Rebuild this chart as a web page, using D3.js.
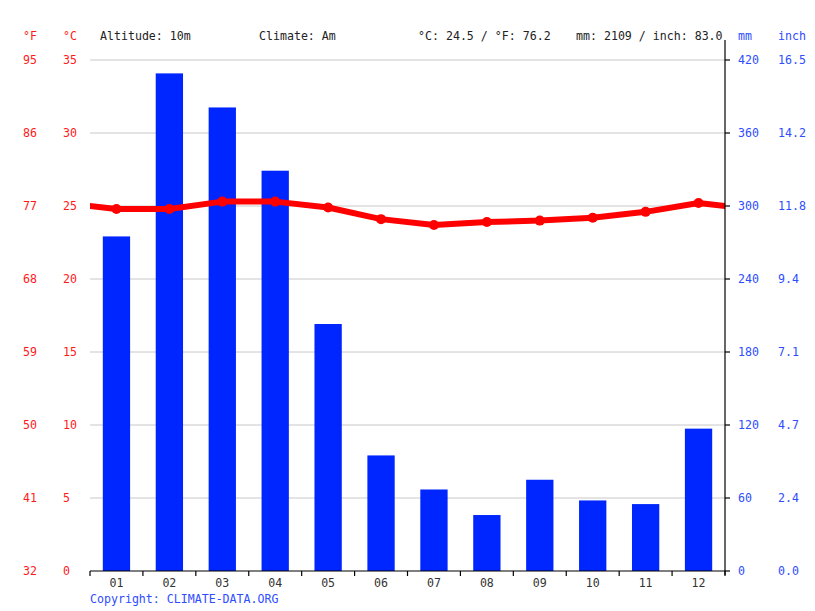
<!DOCTYPE html>
<html>
<head>
<meta charset="utf-8">
<script src="https://cdn.jsdelivr.net/npm/d3@7"></script>
<style>
  body { margin: 0; background: #fff; }
  svg text { font-family: 'DejaVu Sans Mono', monospace; font-size: 11.6px; }
</style>
</head>
<body>
<svg id="chart" width="815" height="611"></svg>
<script>
// data
var months = ["01", "02", "03", "04", "05", "06", "07", "08", "09", "10", "11", "12"];
var tempC = [24.8, 24.8, 25.3, 25.3, 24.9, 24.1, 23.7, 23.9, 24.0, 24.2, 24.6, 25.2];
var precipMm = [275, 409, 381, 329, 203, 95, 67, 46, 75, 58, 55, 117];
var celsiusTicks = [0, 5, 10, 15, 20, 25, 30, 35];
var fahrenheitLabels = ["32", "41", "50", "59", "68", "77", "86", "95"];
var mmTicks = [0, 60, 120, 180, 240, 300, 360, 420];
var inchLabels = ["0.0", "2.4", "4.7", "7.1", "9.4", "11.8", "14.2", "16.5"];
var infoTexts = [
  { x: 100, text: "Altitude: 10m" },
  { x: 259, text: "Climate: Am" },
  { x: 418, text: "°C: 24.5 / °F: 76.2" },
  { x: 576, text: "mm: 2109 / inch: 83.0" }
];

var svg = d3.select('#chart');

// plot box (note: "top" is taken by window.top, so prefixed names)
var plotLeft = 90, plotRight = 725, plotTop = 60, plotBottom = 571;
var red = "#ff0000", blue = "#0026ff", labelBlue = "#2e4dff", labelRed = "#ff1a1a";

var x = d3.scaleBand().domain(months).range([plotLeft, plotRight]).paddingInner(0.484).paddingOuter(0.242);
var band = d3.scaleBand().domain(months).range([plotLeft, plotRight]);
var yT = d3.scaleLinear().domain([0, 35]).range([plotBottom, plotTop]);
var yP = d3.scaleLinear().domain([0, 420]).range([plotBottom, plotTop]);

// grid
svg.append("g")
  .selectAll("line")
  .data(celsiusTicks.filter(function(d) { return d > 0; }))
  .join("line")
  .attr("x1", plotLeft).attr("x2", plotRight)
  .attr("y1", function(d) { return yT(d); })
  .attr("y2", function(d) { return yT(d); })
  .style("stroke", "#c8c8c8")
  .style("stroke-width", 1);

// bars
svg.append("g")
  .selectAll("rect")
  .data(precipMm)
  .join("rect")
  .attr("x", function(d, i) { return x(months[i]); })
  .attr("width", x.bandwidth())
  .attr("y", function(d) { return yP(d); })
  .attr("height", function(d) { return yP(0) - yP(d); })
  .style("fill", blue);

// temperature line, wrapped round the year and clipped to the plot
svg.append("clipPath").attr("id", "plotclip")
  .append("rect")
  .attr("x", plotLeft).attr("y", 0)
  .attr("width", plotRight - plotLeft).attr("height", plotBottom);

var step = band.step();
function cx(i) { return band(months[0]) + step / 2 + i * step; }
var linePts = [[-1, tempC[11]]]
  .concat(tempC.map(function(t, i) { return [i, t]; }))
  .concat([[12, tempC[0]]]);

var line = d3.line()
  .x(function(d) { return cx(d[0]); })
  .y(function(d) { return yT(d[1]); });

var lg = svg.append("g").attr("clip-path", "url(#plotclip)");
lg.append("path")
  .datum(linePts)
  .attr("d", line)
  .style("fill", "none")
  .style("stroke", red)
  .style("stroke-width", 6)
  .style("stroke-linejoin", "round");

lg.selectAll("circle")
  .data(tempC)
  .join("circle")
  .attr("cx", function(d, i) { return cx(i); })
  .attr("cy", function(d) { return yT(d); })
  .attr("r", 5)
  .style("fill", red);

// bottom axis
var xAxis = svg.append("g")
  .attr("transform", "translate(0," + plotBottom + ")");
xAxis.append("line")
  .attr("x1", plotLeft).attr("x2", plotRight)
  .style("stroke", "#000").style("stroke-width", 1.2);
xAxis.selectAll("line.tick")
  .data(d3.range(13))
  .join("line")
  .attr("class", "tick")
  .attr("x1", function(i) { return plotLeft + i * step; })
  .attr("x2", function(i) { return plotLeft + i * step; })
  .attr("y1", 0).attr("y2", 5)
  .style("stroke", "#000").style("stroke-width", 1.2);
xAxis.selectAll("text")
  .data(months)
  .join("text")
  .attr("x", function(d) { return band(d) + step / 2; })
  .attr("y", 16)
  .attr("text-anchor", "middle")
  .style("fill", "#333")
  .text(function(d) { return d; });

// right axis
var rAxis = svg.append("g");
rAxis.append("line")
  .attr("x1", plotRight).attr("x2", plotRight)
  .attr("y1", 40).attr("y2", plotBottom + 4)
  .style("stroke", "#000").style("stroke-width", 1.2);
rAxis.selectAll("line.tick")
  .data(mmTicks)
  .join("line")
  .attr("class", "tick")
  .attr("x1", plotRight).attr("x2", plotRight + 5)
  .attr("y1", function(d) { return yP(d); })
  .attr("y2", function(d) { return yP(d); })
  .style("stroke", "#000").style("stroke-width", 1.2);
rAxis.selectAll("text.mm")
  .data(mmTicks)
  .join("text")
  .attr("class", "mm")
  .attr("x", 738)
  .attr("y", function(d) { return yP(d) + 4; })
  .style("fill", labelBlue)
  .text(function(d) { return d; });
rAxis.selectAll("text.inch")
  .data(inchLabels)
  .join("text")
  .attr("class", "inch")
  .attr("x", 778)
  .attr("y", function(d, i) { return yP(mmTicks[i]) + 4; })
  .style("fill", labelBlue)
  .text(function(d) { return d; });

// left labels
var lAxis = svg.append("g");
lAxis.selectAll("text.c")
  .data(celsiusTicks)
  .join("text")
  .attr("class", "c")
  .attr("x", 63)
  .attr("y", function(d) { return yT(d) + 4; })
  .style("fill", labelRed)
  .text(function(d) { return d; });
lAxis.selectAll("text.f")
  .data(fahrenheitLabels)
  .join("text")
  .attr("class", "f")
  .attr("x", 23)
  .attr("y", function(d, i) { return yT(celsiusTicks[i]) + 4; })
  .style("fill", labelRed)
  .text(function(d) { return d; });

// headers
svg.append("text").attr("x", 23).attr("y", 40).style("fill", labelRed).text("°F");
svg.append("text").attr("x", 63).attr("y", 40).style("fill", labelRed).text("°C");
svg.append("text").attr("x", 738).attr("y", 40).style("fill", labelBlue).text("mm");
svg.append("text").attr("x", 778).attr("y", 40).style("fill", labelBlue).text("inch");

svg.selectAll("text.info")
  .data(infoTexts)
  .join("text")
  .attr("class", "info")
  .attr("x", function(d) { return d.x; })
  .attr("y", 40)
  .style("fill", "#222")
  .text(function(d) { return d.text; });

svg.append("text")
  .attr("x", 90).attr("y", 603)
  .style("fill", labelBlue)
  .text("Copyright: CLIMATE-DATA.ORG");
</script>
</body>
</html>
